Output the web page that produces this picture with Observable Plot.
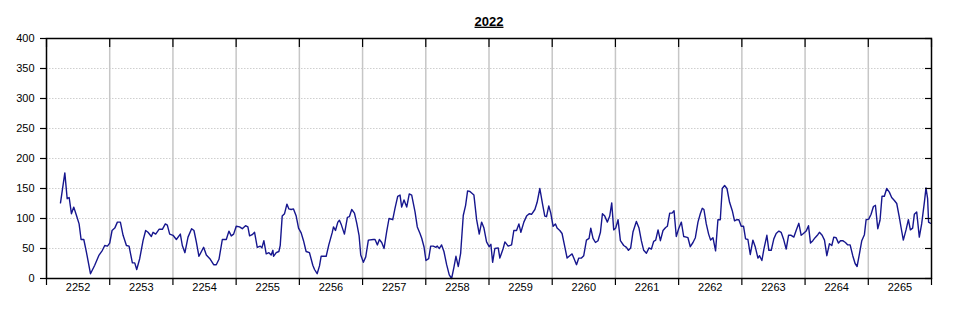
<!DOCTYPE html>
<html><head><meta charset="utf-8">
<script src="https://cdn.jsdelivr.net/npm/d3@7"></script>
<script src="https://cdn.jsdelivr.net/npm/@observablehq/plot@0.6"></script>
<style>body{margin:0;background:#fff;font-family:"Liberation Sans",Arial,sans-serif}</style>
</head><body><div id="chart"></div>
<script>
const title = "2022";
const weekLabels = ["2252","2253","2254","2255","2256","2257","2258","2259","2260","2261","2262","2263","2264","2265"];
const yTicks = [0,50,100,150,200,250,300,350,400];
const weekBounds = [0,7,14,21,28,35,42,49,56,63,70,77,84,91,98];
const weekCenters = [3.5,10.5,17.5,24.5,31.5,38.5,45.5,52.5,59.5,66.5,73.5,80.5,87.5,94.5];

// time in days since the start of the first labelled week
const days = [
1.55,2.03,2.29,2.51,2.76,3.02,3.32,3.61,3.83,4.13,4.42,4.87,5.34,5.82,6.19,6.45,6.75,7.00,7.26,7.56,7.85,8.18,8.48,8.85,9.14,9.51,9.77,9.99,10.32,10.69,10.98,11.24,11.61,11.80,12.09,12.46,12.83,13.16,13.38,13.64,14.01,14.38,14.82,15.04,15.33,15.67,16.07,16.33,16.59,
16.88,17.40,17.70,18.14,18.51,18.80,19.10,19.47,19.91,20.20,20.46,20.72,21.01,21.38,21.68,22.04,22.30,22.49,22.78,23.04,23.34,23.67,23.85,24.07,24.33,24.63,24.88,25.07,25.14,25.44,25.73,25.88,26.10,26.36,26.62,26.84,27.09,27.35,27.65,27.91,28.20,28.46,28.75,29.12,29.49,29.68,29.97,30.23,30.41,30.78,30.97,31.26,31.63,31.78,32.00,32.26,32.44,32.66,32.99,
33.32,33.54,33.80,34.10,34.36,34.61,34.80,35.09,35.35,35.64,36.19,36.38,36.64,36.86,37.12,37.38,37.67,37.93,38.34,38.59,38.89,39.15,39.33,39.59,39.89,40.17,40.44,40.81,41.06,41.36,41.55,41.80,42.02,42.32,42.54,42.83,43.13,43.27,43.50,43.75,44.01,44.31,44.60,44.86,45.12,45.34,45.60,45.86,46.15,46.41,46.63,46.89,47.33,47.63,47.92,48.18,48.44,48.73,49.02,49.21,49.40,49.65,50.02,50.20,50.57,50.76,51.12,51.50,51.75,52.05,52.31,52.53,52.86,53.16,53.45,53.71,54.08,54.33,54.63,54.93,55.18,55.37,55.62,55.84,56.10,56.36,56.54,56.84,57.09,57.39,57.65,57.94,58.20,58.39,58.69,58.94,59.24,59.49,59.79,60.08,60.27,60.52,60.79,61.07,61.34,61.56,61.82,62.11,62.37,62.59,62.81,63.03,63.29,63.55,63.92,64.22,64.44,64.69,64.95,65.32,65.61,
65.87,66.13,66.43,66.72,66.98,67.24,67.46,67.72,67.98,68.27,68.56,68.75,69.01,69.27,69.49,69.74,70.00,70.30,70.56,70.85,71.03,71.29,71.59,71.85,72.14,72.40,72.62,72.80,73.06,73.32,73.54,73.80,74.09,74.35,74.61,74.83,75.09,75.35,75.64,75.94,76.19,76.45,76.67,76.93,77.19,77.41,77.67,77.93,78.22,78.48,78.78,78.96,79.22,79.44,79.77,79.99,80.25,80.54,80.80,81.10,81.35,81.61,81.91,82.17,82.46,82.76,83.01,83.31,83.57,83.82,84.12,84.38,84.60,84.86,85.11,85.41,85.59,85.89,86.15,86.41,86.70,86.96,87.18,87.44,87.70,87.92,88.17,88.47,88.73,88.99,89.28,89.54,89.76,90.02,90.28,90.57,90.76,91.05,91.31,91.57,91.79,92.05,92.30,92.52,92.78,93.04,93.33,93.59,93.89,94.15,94.44,94.63,94.88,95.18,95.44,95.66,95.91,96.10,96.36,96.65,96.91,97.21,97.39,97.57,97.68,97.87
];
const values = [
126,176,133,135,108,119,105,91,65,65,44,8,22,39,47,55,54,59,80,84,94,94,72,55,54,26,26,15,33,63,80,77,70,77,74,82,82,91,89,74,72,65,74,55,43,69,83,80,61,
37,52,39,32,23,23,32,65,65,79,71,74,87,86,83,88,86,71,73,77,52,54,51,63,41,43,39,47,37,43,45,55,104,108,124,116,115,116,104,84,76,63,45,43,22,15,8,21,37,37,37,56,76,86,80,94,97,89,74,
102,103,115,109,92,72,39,27,36,64,65,65,56,65,60,50,78,100,98,117,137,139,119,131,119,141,139,111,86,75,67,53,30,33,54,54,52,54,50,56,45,23,6,0,19,37,20,42,105,122,146,145,139,98,74,94,84,61,53,57,27,50,51,34,50,61,54,56,80,80,91,77,94,104,108,107,115,127,150,124,104,103,121,109,87,91,84,80,75,53,34,38,41,34,23,34,34,38,64,67,84,67,60,63,77,108,104,94,104,126,81,84,98,63,55,52,47,51,78,95,84,
63,47,42,51,49,62,64,81,63,80,85,87,109,109,113,70,83,94,70,69,68,53,60,68,94,108,117,115,91,74,64,68,46,98,98,150,155,150,127,113,96,98,98,87,87,66,65,40,64,53,34,38,30,49,72,47,47,66,75,79,77,66,49,72,72,69,80,92,72,75,79,88,59,63,68,73,77,72,64,38,58,55,69,68,59,63,63,60,56,56,38,25,20,41,63,73,98,99,107,120,122,83,97,137,137,150,144,135,130,125,102,85,64,81,98,81,84,107,111,69,91,127,151,133,94,92
];
const rows = days.map((d, i) => ({day: d, value: values[i]}));

const chart = Plot.plot({
  width: 965, height: 320,
  marginLeft: 46, marginRight: 34, marginTop: 38, marginBottom: 42,
  style: {fontFamily: "'Liberation Sans', Arial, sans-serif", fontSize: "11px", color: "#000", background: "#fff"},
  x: {domain: [0, 98]},
  y: {domain: [0, 400]},
  marks: [
    Plot.ruleY(yTicks.filter(v => v > 0 && v < 400), {stroke: "#cfcfcf", strokeDasharray: "1.5,1.5"}),
    Plot.ruleX(weekBounds.filter(v => v > 0 && v < 98), {stroke: "#c6c6c6", strokeWidth: 1.5}),
    Plot.line(rows, {x: "day", y: "value", stroke: "#16168e", strokeWidth: 1.4}),
    Plot.frame({stroke: "#000", strokeWidth: 1.5}),
    Plot.axisY({ticks: yTicks, anchor: "left", tickSize: 6, tickPadding: 6, label: null, strokeWidth: 1.2}),
    Plot.axisY({ticks: yTicks, anchor: "right", tickSize: 7, dx: -7, tickFormat: () => "", label: null, strokeWidth: 1.2}),
    Plot.axisX({ticks: weekBounds, anchor: "bottom", tickSize: 7, tickFormat: () => "", label: null, strokeWidth: 1.2}),
    Plot.axisX({ticks: weekBounds, anchor: "top", tickSize: 8, dy: 8, tickFormat: () => "", label: null, strokeWidth: 1.2}),
    Plot.axisX({ticks: weekCenters, anchor: "bottom", tickSize: 0, tickPadding: 5, tickFormat: d => weekLabels[Math.round((d - 3.5) / 7)], label: null}),
    Plot.text([title], {frameAnchor: "top", dy: -17, text: d => d, fontWeight: "bold", fontSize: 13, lineAnchor: "middle"})
  ]
});
chart.querySelectorAll('g[aria-label="text"] text').forEach(t => t.style.textDecoration = "underline");
document.getElementById("chart").appendChild(chart);
</script>
</body></html>
